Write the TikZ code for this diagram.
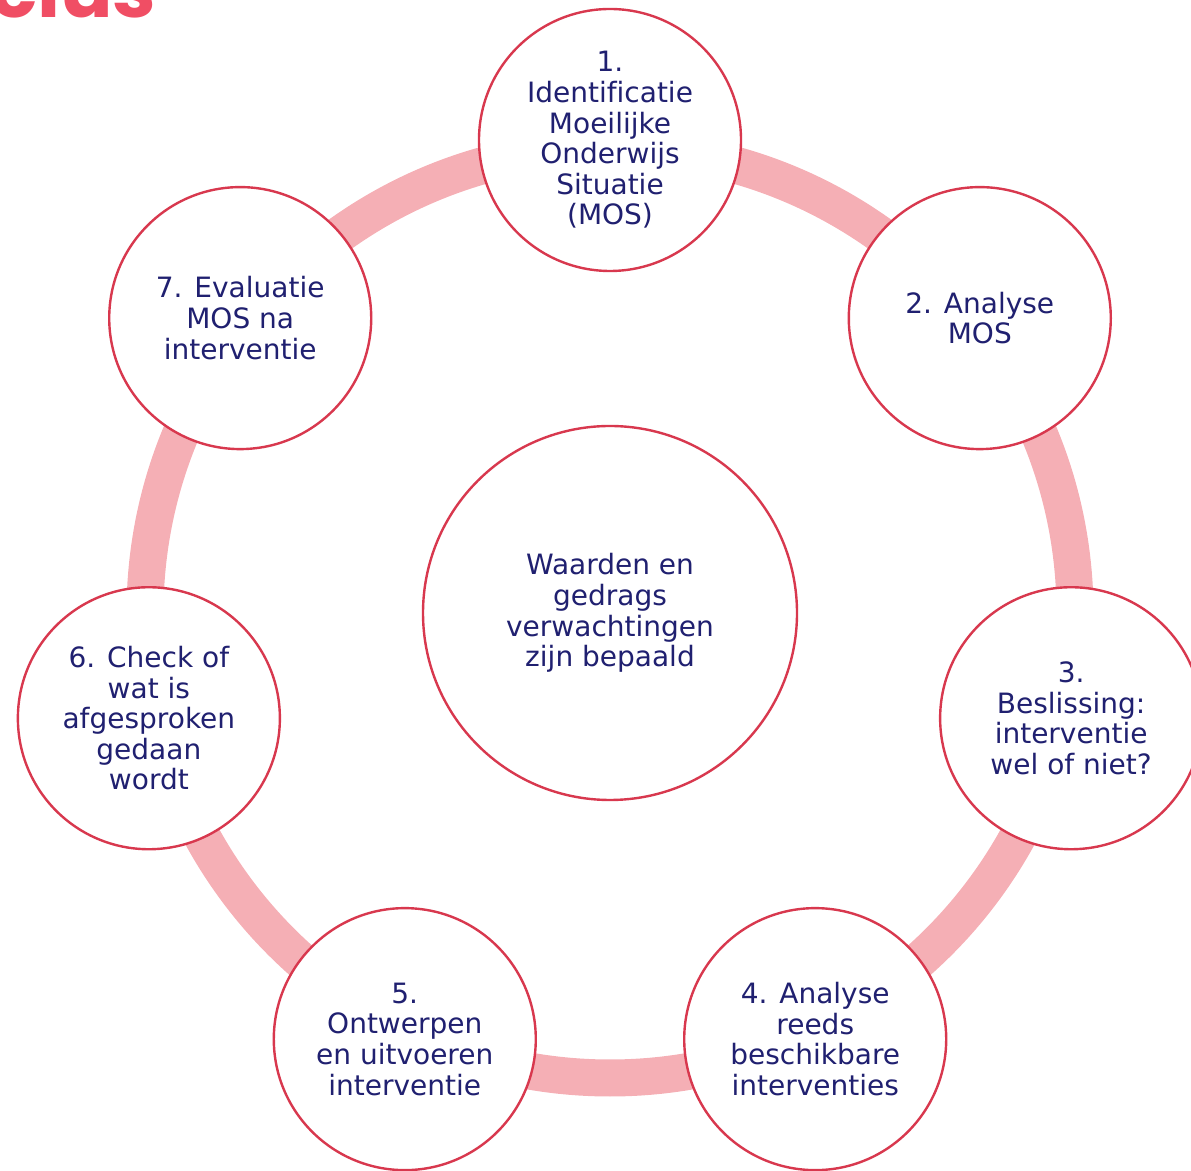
\documentclass[tikz,border=0pt]{standalone}
\usepackage{fontspec}
\setmainfont[Ligatures=NoCommon]{DejaVu Sans}
\newfontfamily\titlefont{Poppins}
\usetikzlibrary{calc}
\definecolor{ringpink}{HTML}{F5AFB5}
\definecolor{edgered}{HTML}{D8384E}
\definecolor{titlered}{HTML}{F04E64}
\definecolor{textnavy}{HTML}{202070}
\tikzset{
    stepcircle/.style={circle,draw=edgered,line width=2.4pt,fill=white,
        minimum size=262pt,inner sep=0pt,text=textnavy,align=center,
        font=\fontsize{28}{30.6}\selectfont},
    corecircle/.style={stepcircle,minimum size=374pt}
}

\begin{document}
\begin{tikzpicture}[x=1pt,y=1pt]
    \useasboundingbox (0,0) rectangle (1191,1170);
    \coordinate (Centre) at (610,557);
    % title, only its lower part is on the page
    \node [anchor=base west,inner sep=0pt,text=titlered,font=\titlefont\bfseries\fontsize{78}{80}\selectfont] (Title) at (-10,1152) {clus};
    % ring behind the steps
    \draw [ringpink, line width=37pt] (Centre) circle (465);
    % the seven steps
    \foreach \i/\txt in {1/{1.\\Identificatie\\Moeilijke\\Onderwijs\\Situatie\\(MOS)},
                         2/{2. Analyse\\MOS},
                         3/{3.\\Beslissing:\\interventie\\wel of niet?},
                         4/{4. Analyse\\reeds\\beschikbare\\interventies},
                         5/{5.\\Ontwerpen\\en uitvoeren\\interventie},
                         6/{6. Check of\\wat is\\afgesproken\\gedaan\\wordt},
                         7/{7. Evaluatie\\MOS na\\interventie}}{% one circle per step
        \node [stepcircle] (Step\i) at ($(Centre)+({90-(\i-1)*360/7}:473)$) {\txt};
    }
    \node [corecircle] (Core) at (Centre) {Waarden en\\gedrags\\verwachtingen\\zijn bepaald};
\end{tikzpicture}
\end{document}
